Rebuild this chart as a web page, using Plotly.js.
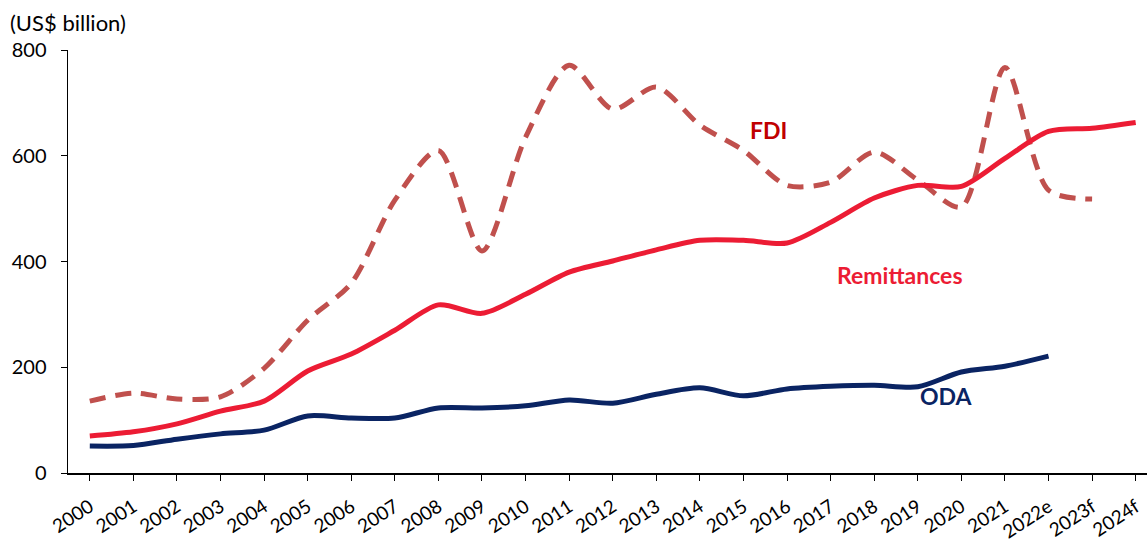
<!DOCTYPE html>
<html>
<head>
<meta charset="utf-8">
<script src="https://cdn.plot.ly/plotly-3.0.1.min.js"></script>
<style>
  html, body { margin: 0; padding: 0; background: #fff; }
  #chart { width: 1148px; height: 544px; }
</style>
</head>
<body>
<div id="chart"></div>
<script>
  const years = [
    "2000", "2001", "2002", "2003", "2004", "2005", "2006", "2007", "2008",
    "2009", "2010", "2011", "2012", "2013", "2014", "2015", "2016", "2017",
    "2018", "2019", "2020", "2021", "2022e", "2023f", "2024f",
  ];
  const fdi = [
    136, 151, 140, 144, 198, 289, 359, 516, 610, 420, 635, 771, 688, 730,
    658, 610, 544, 550, 607, 554, 503, 767, 535, 518,
  ];
  const remittances = [
    70, 78, 93, 117, 136, 193, 225, 270, 318, 302, 338, 380, 401, 422, 440,
    440, 435, 474, 520, 544, 542, 595, 646, 652, 663,
  ];
  const oda = [
    51, 52, 64, 74, 81, 108, 104, 104, 123, 123, 127, 138, 132, 149, 161,
    146, 159, 164, 166, 163, 191, 202, 221,
  ];

  const font = "Lato, 'Open Sans', sans-serif";

  const traces = [
    {
      x: years.slice(0, fdi.length),
      y: fdi,
      name: "FDI",
      type: "scatter",
      mode: "lines",
      line: { color: "#c0504d", width: 5, dash: "16px,10px", shape: "spline", smoothing: 0.8 },
    },
    {
      x: years.slice(0, remittances.length),
      y: remittances,
      name: "Remittances",
      type: "scatter",
      mode: "lines",
      line: { color: "#ec1c34", width: 5, shape: "spline", smoothing: 0.8 },
    },
    {
      x: years.slice(0, oda.length),
      y: oda,
      name: "ODA",
      type: "scatter",
      mode: "lines",
      line: { color: "#0a2463", width: 5, shape: "spline", smoothing: 0.8 },
    },
  ];

  const layout = {
    width: 1148,
    height: 544,
    margin: { l: 68, r: 1, t: 50, b: 71 },
    showlegend: false,
    paper_bgcolor: "#fff",
    plot_bgcolor: "#fff",
    font: { family: font, color: "#000", size: 20 },
    xaxis: {
      type: "category",
      range: [-0.5, 24.26],
      showgrid: false,
      zeroline: false,
      showline: true,
      linecolor: "#000",
      linewidth: 1.5,
      ticks: "outside",
      ticklen: 6,
      tickcolor: "#000",
      tickangle: -33,
      ticklabelstandoff: 8,
      tickfont: { family: font, size: 19 },
    },
    yaxis: {
      range: [0, 800],
      tickvals: [0, 200, 400, 600, 800],
      showgrid: false,
      zeroline: false,
      showline: true,
      linecolor: "#000",
      linewidth: 1.5,
      ticks: "outside",
      ticklen: 6,
      tickcolor: "#000",
      ticklabelstandoff: 10,
      tickfont: { family: font, size: 20 },
    },
    annotations: [
      {
        xref: "paper", yref: "paper", x: -0.0556, y: 1.064,
        xanchor: "left", yanchor: "middle", showarrow: false,
        text: "(US$ billion)", font: { family: font, size: 22, color: "#000" },
      },
      {
        x: 15.58, y: 648, xref: "x", yref: "y", showarrow: false,
        text: "<b>FDI</b>", font: { family: font, size: 23, color: "#c00000" },
      },
      {
        x: 18.59, y: 374, xref: "x", yref: "y", showarrow: false,
        text: "<b>Remittances</b>", font: { family: font, size: 23, color: "#ec1c34" },
      },
      {
        x: 19.67, y: 146, xref: "x", yref: "y", showarrow: false,
        text: "<b>ODA</b>", font: { family: font, size: 23, color: "#0a2463" },
      },
    ],
  };

  Plotly.newPlot("chart", traces, layout, { displayModeBar: false, staticPlot: true });
</script>
</body>
</html>
